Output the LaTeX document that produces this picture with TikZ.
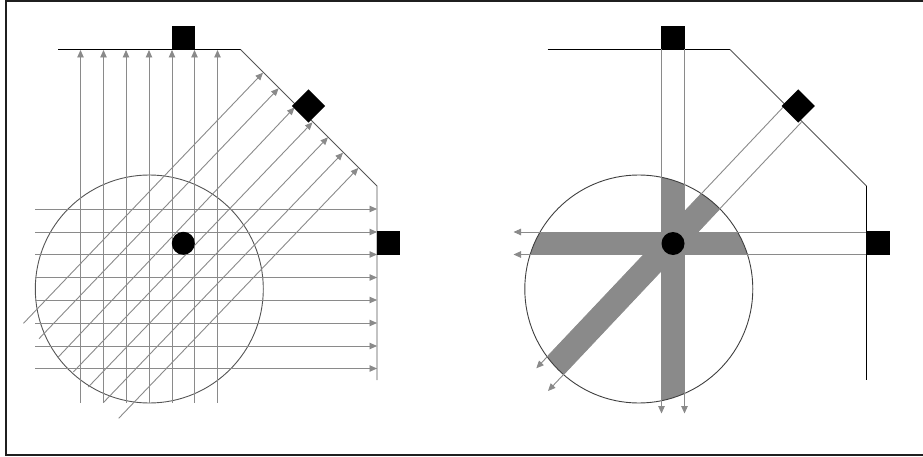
\documentclass[tikz,border=0pt]{standalone}
\usepackage{xcolor}
\usepackage{tikz}
\usetikzlibrary{arrows.meta, shapes.geometric}

\definecolor{raygray}{HTML}{8A8A8A}
\definecolor{wallgray}{HTML}{555555}

\begin{document}
\begin{tikzpicture}[
    x=1pt, y=-1pt,
    detector/.style={rectangle, fill=black, inner sep=0pt, minimum size=23.5pt},
    source/.style={circle, fill=black, inner sep=0pt, minimum size=23pt},
    body/.style={circle, draw=wallgray, line width=0.9pt, inner sep=0pt, minimum size=228pt},
    ray/.style={draw=raygray, line width=0.9pt},
    beam/.style={ray, -{Triangle[length=7.5pt, width=6.5pt]}},
    wall/.style={line width=0.9pt}
]
\useasboundingbox (0,0) rectangle (923,457);
\draw[line width=2pt, draw=black!88] (926,1) -- (6,1) -- (6,455.3) -- (926,455.3);

% left panel: wall and body
\coordinate (wallA) at (58,49.5);
\coordinate (wallB) at (240.5,49.5);
\coordinate (wallC) at (377,186);
\coordinate (wallD) at (377,380);
\node[body] (disc) at (149.3,289) {};

% left panel: rays
\foreach \xpos [count=\i] in {80.5,103.5,126,149,172,194.5,217.5} {
    \coordinate (vs\i) at (\xpos,402.5);
    \coordinate (ve\i) at (\xpos,50);
    \draw[beam] (vs\i) -- (ve\i);
}
\foreach \ypos [count=\i] in {209,232,254.5,277.5,300,323,346,368.5} {
    \coordinate (hs\i) at (35,\ypos);
    \coordinate (he\i) at (377,\ypos);
    \draw[beam] (hs\i) -- (he\i);
}
\foreach \xa/\ya/\xb/\yb [count=\i] in {23.5/323.3/263/72.7, 39/338.7/278.6/88.3, 58.3/357/294.5/107.5, 73.3/372/312.5/122.3, 88.3/387/328/137.3, 103.3/402.7/343/152.7, 118.7/418.3/358.3/168} {
    \coordinate (ds\i) at (\xa,\ya);
    \coordinate (de\i) at (\xb,\yb);
    \draw[beam] (ds\i) -- (de\i);
}

\draw[wall, black] (wallA) -- (wallB);
\draw[wall, wallgray] (wallB) -- (wallC) -- (wallD);

\node[detector] (topdet) at (183.3,37.7) {};
\node[detector, rotate=45] (diagdet) at (308.5,106) {};
\node[detector] (sidedet) at (388.7,243) {};
\node[source] (focus) at (183.3,243.3) {};

% right panel: attenuated bands
\begin{scope}
    \clip (638.8,289) circle (114pt);
    \fill[raygray] (661.5,170) rectangle (684.5,410);
    \fill[raygray] (520,232) rectangle (760,254.5);
    \fill[raygray] (783,107.3) -- (801.3,122.3) -- (548,391) -- (536.3,368.3) -- cycle;
\end{scope}

% right panel: wall and body
\coordinate (wallAr) at (547.5,49.5);
\coordinate (wallBr) at (730,49.5);
\coordinate (wallCr) at (866.5,186);
\coordinate (wallDr) at (866.5,380);
\node[body, draw=black!75] (discr) at (638.8,289) {};
\draw[wall, black] (wallAr) -- (wallBr);
\draw[wall, wallgray] (wallBr) -- (wallCr);
\draw[wall, black] (wallCr) -- (wallDr);

% right panel: rays
\coordinate (rvs1) at (661.5,49.5);
\coordinate (rve1) at (661.5,413.5);
\coordinate (rvs2) at (684.5,49.5);
\coordinate (rve2) at (684.5,413.5);
\coordinate (rhs1) at (866.5,232);
\coordinate (rhe1) at (513.5,232);
\coordinate (rhs2) at (866.5,254.5);
\coordinate (rhe2) at (513.5,254.5);
\coordinate (rds1) at (783,107.3);
\coordinate (rde1) at (536.3,368.3);
\coordinate (rds2) at (801.3,122.3);
\coordinate (rde2) at (548,391);
\foreach \i in {1,2} {
    \draw[beam] (rvs\i) -- (rve\i);
    \draw[beam] (rhs\i) -- (rhe\i);
    \draw[beam] (rds\i) -- (rde\i);
}

\node[detector] (topdetr) at (673,37.7) {};
\node[detector, rotate=45] (diagdetr) at (798.3,106) {};
\node[detector] (sidedetr) at (878,243) {};
\node[source] (focusr) at (673,243.5) {};

\end{tikzpicture}
\end{document}
